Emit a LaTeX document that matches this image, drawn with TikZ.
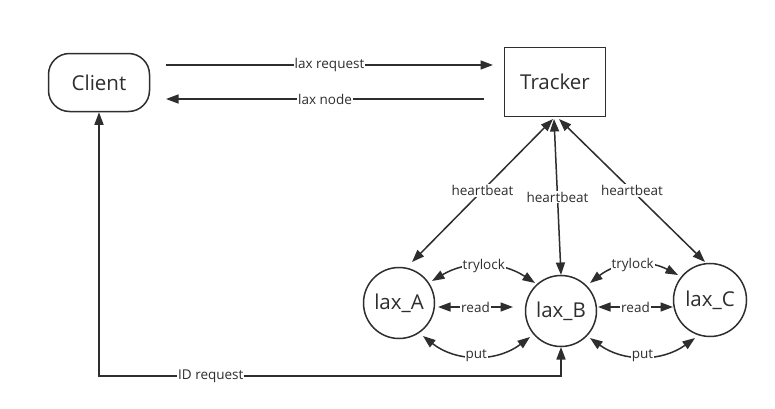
\documentclass[tikz,border=0pt]{standalone}
\usepackage{fontspec}
\setmainfont{Open Sans}
\usetikzlibrary{arrows.meta,calc}
\definecolor{ink}{HTML}{2E2E2E}
\begin{document}
\begin{tikzpicture}[x=1pt,y=1pt,
  line/.style={draw=ink, line width=1.5pt},
  tip/.tip={Triangle[length=12.5pt,width=9pt]},
  arr/.style={line, -tip},
  dbl/.style={line, tip-tip},
  lbl/.style={fill=white, text=ink, inner sep=1pt, font=\fontsize{13.5}{13.5}\selectfont},
  big/.style={draw=ink, line width=1.5pt, text=ink, inner sep=0pt, font=\fontsize{20.5}{22}\selectfont},
  term/.style={big, rounded corners=21pt, minimum width=101pt, minimum height=58pt},
  boxnode/.style={big, minimum width=101pt, minimum height=69pt},
  proc/.style={big, circle, minimum size=71pt}
]
\useasboundingbox (0,0) rectangle (775,408);
\fill[white] (0,0) rectangle (775,408);

\node[term] (client) at (99,325.5) {Client};
\node[boxnode] (tracker) at (555,326) {Tracker};
\node[proc] (A) at (399,105) {lax\_A};
\node[proc] (B) at (561,97) {lax\_B};
\node[proc, minimum size=73pt] (C) at (710,108) {lax\_C};

% client <-> tracker
\draw[arr] ($(client)+(67,17.5)$) -- node[lbl]{lax request} ($(tracker)+(-62,17)$);
\draw[arr] ($(tracker)+(-71,-17)$) -- node[lbl]{lax node} ($(client)+(67,-16.5)$);

% heartbeats
\draw[dbl] ($(tracker)+(-2,-37)$) -- node[lbl]{heartbeat} ($(A)+(13,41)$);
\draw[dbl] ($(tracker)+(-1,-37)$) -- node[lbl]{heartbeat} ($(B)+(0,36)$);
\draw[dbl] ($(tracker)+(4,-37)$) -- node[lbl]{heartbeat} ($(C)+(-5,38)$);

% trylock
\draw[dbl] ($(A)+(33,22)$) to[bend left=32] node[lbl]{trylock} ($(B)+(-26,28)$);
\draw[dbl] ($(B)+(29,28)$) to[bend left=33] node[lbl]{trylock} ($(C)+(-32,25)$);

% read
\draw[dbl] ($(A)+(39,-4)$) -- node[lbl]{read} ($(B)+(-48,4)$);
\draw[dbl] ($(B)+(37,4)$) -- node[lbl]{read} ($(C)+(-37,-7)$);

% put
\draw[dbl] ($(A)+(24,-33)$) to[bend right=38] node[lbl]{put} ($(B)+(-31,-26)$);
\draw[dbl] ($(B)+(29,-27)$) to[bend right=36] node[lbl]{put} ($(C)+(-15,-38)$);

% ID request
\coordinate (base) at (0,32);
\coordinate (bB) at ($(B)+(0,-36)$);
\draw[dbl] (bB) -- (bB |- base) -- node[lbl,pos=0.758]{ID request} (client.south |- base) -- (client.south);
\end{tikzpicture}
\end{document}
